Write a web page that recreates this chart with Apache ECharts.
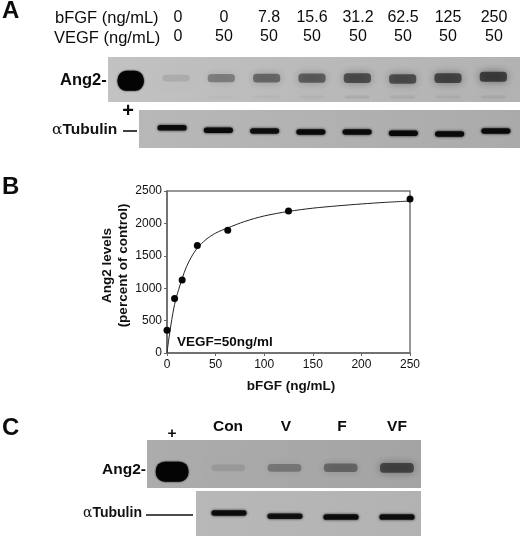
<!DOCTYPE html>
<html>
<head>
<meta charset="utf-8">
<style>html,body{margin:0;padding:0;background:#fff}#c{width:520px;height:536px}</style>
<script src="https://cdn.jsdelivr.net/npm/echarts@6/dist/echarts.min.js"></script>
</head>
<body>
<div id="c"></div>
<script>
// Panel A lane labels
const laneFGF = ['0', '0', '7.8', '15.6', '31.2', '62.5', '125', '250'];
const laneVEGF = ['0', '50', '50', '50', '50', '50', '50', '50'];
// Panel B measured points
const doseFGF = [0, 7.8, 15.6, 31.2, 62.5, 125, 250];
const ang2Levels = [350, 840, 1125, 1660, 1895, 2190, 2375];
// Panel B fitted curve
const curveX = [0, 1, 2, 4, 6, 7.8, 10, 12, 15.6, 20, 25, 31.2, 40, 50, 62.5, 80, 100, 125, 150, 175, 200, 225, 250];
const curveY = [0, 120, 230, 430, 610, 750, 880, 980, 1150, 1330, 1480, 1620, 1750, 1850, 1930, 2030, 2115, 2185, 2235, 2270, 2300, 2325, 2345];
// Panel C lane labels
const laneC = ['+', 'Con', 'V', 'F', 'VF'];
// Band darkness (0..1) by lane, read from the blots
const bandsA = [1, 0.13, 0.42, 0.55, 0.62, 0.72, 0.72, 0.78, 0.82];
const smudgeA = [0, 0, 0.03, 0.04, 0.05, 0.1, 0.08, 0.07, 0.09];
const tubulinA = [0.92, 0.97, 0.9, 0.95, 0.92, 0.97, 0.97, 0.95];
const bandsC = [1, 0.13, 0.38, 0.5, 0.75];
const tubulinC = [0.92, 0.88, 0.92, 0.9];
// Band vertical placement inside its strip (0 = bottom, 1 = top)
const placeA = [0.47, 0.53, 0.53, 0.53, 0.53, 0.53, 0.51, 0.53, 0.56];
const placeTubA = [0.53, 0.47, 0.45, 0.42, 0.42, 0.39, 0.37, 0.45];
const placeC = [0.34, 0.42, 0.42, 0.42, 0.42];
const placeTubC = [0.51, 0.44, 0.42, 0.42];

const FONT = '"Liberation Sans", Arial, sans-serif';

function softBar(c, w, h, r, color, blur) {
  return { type: 'rect', shape: { x: c[0] - w / 2, y: c[1] - h / 2, width: w, height: h, r },
    style: { fill: color, shadowBlur: blur, shadowColor: color } };
}
function bandRender(kind) {
  return function (params, api) {
    const c = api.coord([api.value(0), api.value(1)]);
    const s = api.value(2);
    const bw = api.size([1, 0])[0];
    if (s <= 0) return null;
    if (kind === 'tub') return softBar(c, bw * 0.63, 5.5, 2.7, 'rgba(8,8,8,' + s + ')', 3);
    if (kind === 'smudge') return softBar(c, bw * 0.55, 3, 1.5, 'rgba(60,60,60,' + s + ')', 5);
    if (s >= 1) return softBar(c, bw * 0.58, 20, 9, '#040404', 2);
    const ink = 'rgba(25,25,25,' + (s * 0.85) + ')';
    return softBar(c, bw * 0.6, 6 + s * 5, 3.5, ink, 8);
  };
}

function laneAxis(i, n) {
  return { gridIndex: i, type: 'category', data: Array.from({ length: n }, (_, k) => k), show: false };
}
function stripAxis(i) {
  return { gridIndex: i, type: 'value', min: 0, max: 1, show: false };
}
function bandSeries(i, kind, strengths, places, name) {
  return {
    type: 'custom', name, xAxisIndex: i, yAxisIndex: i, silent: true, clip: true, z: 3,
    renderItem: bandRender(kind),
    encode: { x: 0, y: 1 },
    data: strengths.map((s, k) => [k, places[k], s])
  };
}
function grey(x, y, w, h, a, b) {
  return { type: 'rect', silent: true, z: 0, shape: { x, y, width: w, height: h },
    style: { fill: new echarts.graphic.LinearGradient(0, 0, 1, 0, [{ offset: 0, color: a }, { offset: 1, color: b }]) } };
}
function label(text, x, y, size, bold, align) {
  return { type: 'text', silent: true, z: 10, x, y,
    style: { text, fill: '#0c0c0c', font: (bold ? 'bold ' : '') + size + 'px ' + FONT, textAlign: align || 'center', textVerticalAlign: 'middle' } };
}
function alpha(text, x, y, size) {
  return { type: 'text', silent: true, z: 10, x, y,
    style: { rich: { a: { font: size + 'px "DejaVu Serif", serif', fill: '#111' }, b: { font: 'bold ' + size + 'px ' + FONT, fill: '#111' } },
      text: '{a|\u03b1}{b|' + text + '}', textAlign: 'left', textVerticalAlign: 'middle' } };
}
function rule(x1, x2, y, w) {
  return { type: 'line', silent: true, z: 10, shape: { x1, y1: y, x2, y2: y }, style: { stroke: '#111', lineWidth: w } };
}

const chart = echarts.init(document.getElementById('c'), null, { renderer: 'canvas' });

const laneLabelX = [178, 224, 269, 312, 358, 403, 448, 494];
const laneCX = [172, 228, 286, 342, 397];
const graphics = [
  grey(108, 57, 412, 45, '#c2c2c2', '#b2b2b2'),
  grey(139, 110, 381, 38, '#b8b8b8', '#aaaaaa'),
  grey(147, 440, 274, 48, '#acacac', '#a4a4a4'),
  grey(196, 491, 225, 45, '#b8b8b8', '#b2b2b2'),
  label('A', 2, 11, 24, true, 'left'),
  label('B', 2, 187, 24, true, 'left'),
  label('C', 2, 428, 24, true, 'left'),
  label('bFGF (ng/mL)', 55, 18, 16.5, false, 'left'),
  label('VEGF (ng/mL)', 54, 38, 16.5, false, 'left'),
  label('Ang2-', 60, 80, 16.5, true, 'left'),
  alpha('Tubulin', 52, 130, 15.5),
  rule(123, 137, 131, 1.6),
  label('+', 128, 111, 20, true),
  label('VEGF=50ng/ml', 177, 342, 13.5, true, 'left'),
  label('Ang2-', 102, 470, 15.5, true, 'left'),
  alpha('Tubulin', 83, 513, 14),
  rule(146, 193, 515, 1.5)
];
laneFGF.forEach((t, i) => graphics.push(label(t, laneLabelX[i], 18, 16, false)));
laneVEGF.forEach((t, i) => graphics.push(label(t, laneLabelX[i], 37, 16, false)));
laneC.forEach((t, i) => graphics.push(label(t, laneCX[i], i === 0 ? 434 : 427, 15.5, true)));

chart.setOption({
  animation: false,
  backgroundColor: '#fff',
  graphic: graphics,
  grid: [
    { left: 167, top: 191, width: 243, height: 162, show: true, borderColor: '#777', borderWidth: 1.5, backgroundColor: 'transparent' },
    { left: 108, top: 57, width: 408, height: 45 },
    { left: 149, top: 110, width: 370, height: 38 },
    { left: 144, top: 440, width: 281, height: 48 },
    { left: 201, top: 491, width: 224, height: 45 }
  ],
  xAxis: [
    { gridIndex: 0, type: 'value', min: 0, max: 250, interval: 50,
      name: 'bFGF (ng/mL)', nameLocation: 'middle', nameGap: 26,
      nameTextStyle: { fontFamily: FONT, fontWeight: 'bold', fontSize: 13.5, color: '#111', padding: [0, 0, 0, 5] },
      axisLine: { onZero: false, lineStyle: { color: '#666', width: 1.5 } },
      axisTick: { length: 3, lineStyle: { color: '#666' } },
      splitLine: { show: false },
      axisLabel: { fontFamily: FONT, fontSize: 12, color: '#111', margin: 6, formatter: v => String(v) } },
    laneAxis(1, 9), laneAxis(2, 8), laneAxis(3, 5), laneAxis(4, 4)
  ],
  yAxis: [
    { gridIndex: 0, type: 'value', min: 0, max: 2500, interval: 500,
      name: 'Ang2 levels\n(percent of control)', nameLocation: 'middle', nameGap: 35, nameRotate: 90,
      nameTextStyle: { fontFamily: FONT, fontWeight: 'bold', fontSize: 13.5, lineHeight: 16, color: '#111', padding: [0, 0, 0, 13] },
      axisLine: { onZero: false, lineStyle: { color: '#666', width: 1.5 } },
      axisTick: { length: 3, lineStyle: { color: '#666' } },
      splitLine: { show: false },
      axisLabel: { fontFamily: FONT, fontSize: 12, color: '#111', margin: 5, formatter: v => String(v) } },
    stripAxis(1), stripAxis(2), stripAxis(3), stripAxis(4)
  ],
  series: [
    { type: 'line', name: 'Fit', xAxisIndex: 0, yAxisIndex: 0, smooth: 0.3, showSymbol: false, silent: true, z: 3,
      lineStyle: { color: '#222', width: 1 }, data: curveX.map((x, i) => [x, curveY[i]]) },
    { type: 'scatter', name: 'Ang2 levels', xAxisIndex: 0, yAxisIndex: 0, symbolSize: 7, clip: false, z: 4,
      itemStyle: { color: '#050505', opacity: 1 }, data: doseFGF.map((x, i) => [x, ang2Levels[i]]) },
    bandSeries(1, 'band', bandsA, placeA, 'Ang2 A'),
    bandSeries(1, 'smudge', smudgeA, smudgeA.map(() => 0.11), 'Smudge A'),
    bandSeries(2, 'tub', tubulinA, placeTubA, 'Tubulin A'),
    bandSeries(3, 'band', bandsC, placeC, 'Ang2 C'),
    bandSeries(4, 'tub', tubulinC, placeTubC, 'Tubulin C')
  ]
});
</script>
</body>
</html>
